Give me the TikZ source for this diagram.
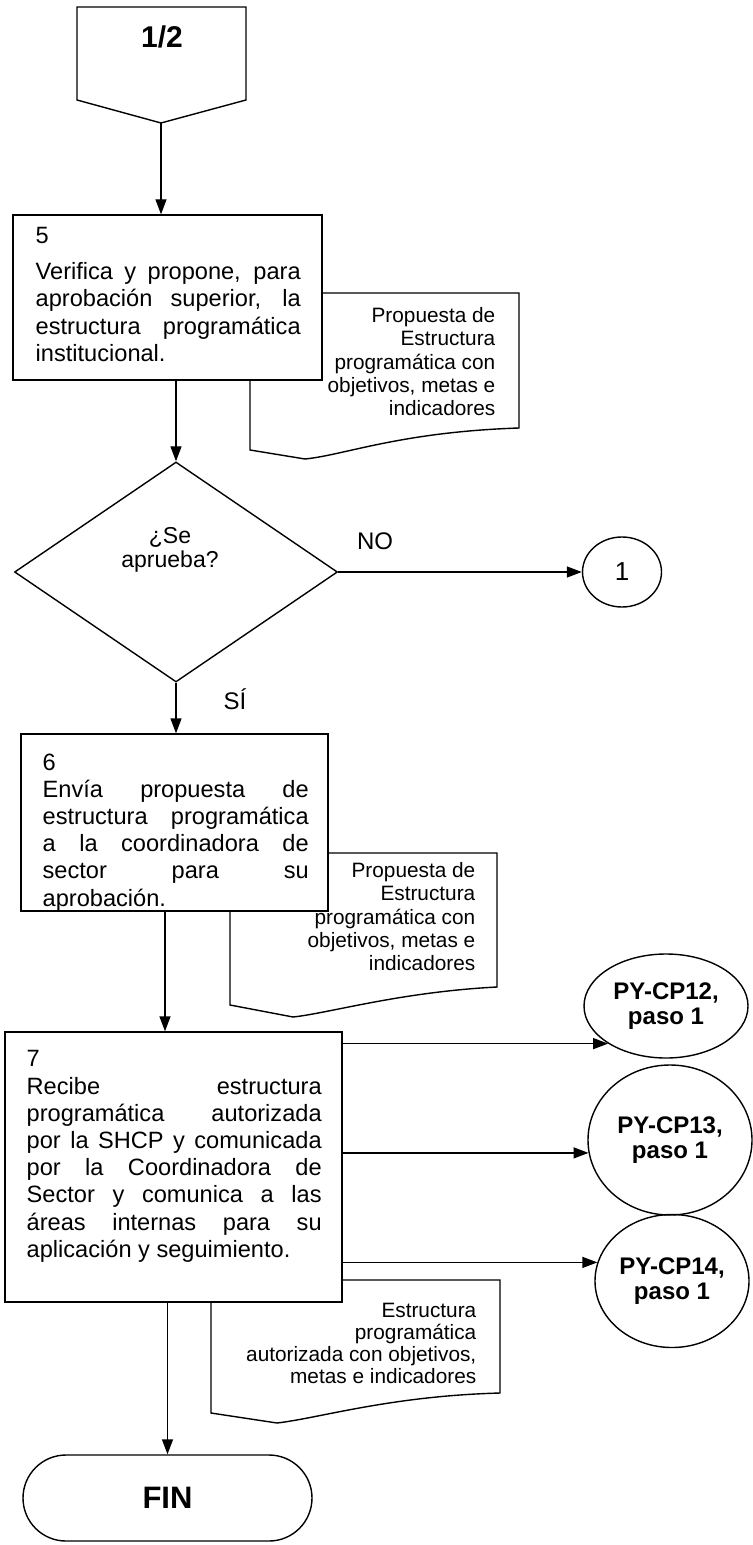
\documentclass[tikz,border=0pt]{standalone}
\usepackage{fontspec}
\setmainfont{Liberation Sans}
\usepackage{tikz}
\usetikzlibrary{arrows.meta, positioning, calc}
\usetikzlibrary{shapes.geometric, shapes.misc}

\begin{document}
\begin{tikzpicture}[>={Triangle[length=7.5pt, width=5.5pt]}, x=0.5pt, y=-0.5pt,
    line width=0.7pt,
    hop/.style={draw, rectangle, fill=white, inner sep=0pt},
    chu/.style={inner sep=0pt, anchor=north west,
        font=\fontsize{11.8}{13.6}\selectfont},
    tailieu/.style={inner sep=0pt, align=right, anchor=north east,
        font=\fontsize{10.4}{11.6}\selectfont},
    tron/.style={draw, ellipse, inner sep=0pt, align=center,
        font=\bfseries\fontsize{12}{12.5}\selectfont}]
    \useasboundingbox (0,0) rectangle (752,1545);

    % Đầu nối sang trang 1/2
    \draw (77,7) -- (246,7) -- (246,100) -- (161,123) -- (77,100) -- cycle;
    \coordinate (dinh) at (161,123);
    \node[font=\bfseries\fontsize{15}{18}\selectfont] (trang) at (162,37) {1/2};

    % Tài liệu (vẽ trước, hộp đè lên)
    \draw[fill=white] (250,450) -- (305,459) .. controls (345,455) and (400,432) .. (519,428)
        -- (519,293) -- (250,293) -- cycle;
    \node[tailieu] (d1) at (496,307) {Propuesta de\\ Estructura\\ programática con\\ objetivos, metas e\\ indicadores};
    \draw[fill=white] (230,1005) -- (293,1017) .. controls (330,1013) and (400,992) .. (497,987)
        -- (497,853) -- (230,853) -- cycle;
    \node[tailieu] (d2) at (476,862) {Propuesta de\\ Estructura\\ programática con\\ objetivos, metas e\\ indicadores};
    \draw[fill=white] (211,1413) -- (277,1423) .. controls (320,1418) and (390,1396) .. (500,1393)
        -- (500,1280) -- (211,1280) -- cycle;
    \node[tailieu, font=\fontsize{10.4}{11}\selectfont] (d3) at (477,1302) {Estructura\\ programática\\ autorizada con objetivos,\\ metas e indicadores};

    % Bước 5
    \node[hop, minimum width=154.5pt, minimum height=82.5pt] (p5) at (167.5,297.5) {};
    \node[chu] (t5) at (35,226.5) {\parbox[t]{132.5pt}{\tolerance=10000
        5\\[4.5pt] Verifica y propone, para\linebreak aprobación superior, la\linebreak
        estructura programática\linebreak institucional.}};

    % Điều kiện
    \node[draw, diamond, minimum width=161.5pt, minimum height=110pt, inner sep=0pt] (hoi) at (176,572) {};
    \node[align=center, font=\fontsize{11.5}{12}\selectfont] (hoitext) at (170,550) {¿Se\\aprueba?};
    \node[font=\fontsize{12}{14}\selectfont] (no) at (375,541) {NO};
    \node[font=\fontsize{12}{14}\selectfont] (si) at (235,699) {SÍ};
    \node[draw, ellipse, minimum width=39.5pt, minimum height=35pt, inner sep=0pt,
        font=\fontsize{13}{15}\selectfont] (mot) at (622,572) {1};

    % Bước 6
    \node[hop, minimum width=153.5pt, minimum height=88.5pt] (p6) at (174.5,822.5) {};
    \node[chu] (t6) at (42,753) {\parbox[t]{133pt}{\tolerance=10000
        6\\ Envía propuesta de\linebreak estructura programática\linebreak
        a la coordinadora de\linebreak sector para su\linebreak aprobación.}};

    % Bước 7
    \node[hop, minimum width=168.5pt, minimum height=135pt] (p7) at (173.5,1167) {};
    \node[chu] (t7) at (26,1050) {\parbox[t]{147.5pt}{\tolerance=10000
        7\\ Recibe estructura\linebreak programática autorizada\linebreak
        por la SHCP y comunicada\linebreak por la Coordinadora de\linebreak
        Sector y comunica a las\linebreak áreas internas para su\linebreak
        aplicación y seguimiento.}};

    % Các thủ tục liên quan
    \node[tron, minimum width=82pt, minimum height=52pt] (c12) at (666,1006) {PY-CP12,\\paso 1};
    \node[tron, minimum width=82pt, minimum height=75pt] (c13) at (670,1140) {PY-CP13,\\paso 1};
    \node[tron, minimum width=77pt, minimum height=66.5pt] (c14) at (672,1281) {PY-CP14,\\paso 1};

    % Kết thúc
    \node[draw, rounded rectangle, minimum width=144.5pt, minimum height=43pt, inner sep=0pt,
        font=\bfseries\fontsize{15.5}{18}\selectfont] (ket) at (167.5,1498) {FIN};

    % Mũi tên nối
    \draw[->] (dinh) -- (dinh |- p5.north);
    \draw[->] (p5.south -| hoi.north) -- (hoi.north);
    \draw[->] (hoi.east) -- (mot.west);
    \draw[->] (hoi.south) -- (hoi.south |- p6.north);
    \draw[->] ([xshift=-4.75pt]p6.south) -- ([xshift=-4.75pt]p6.south |- p7.north);
    \draw[->] (p7.east |- c12.213) -- (c12.213);
    \draw[->] (p7.east |- c13.189) -- (c13.189);
    \draw[->] (p7.east |- c14.166) -- (c14.166);
    \draw[->] (ket.north |- p7.south) -- (ket.north);
\end{tikzpicture}
\end{document}
